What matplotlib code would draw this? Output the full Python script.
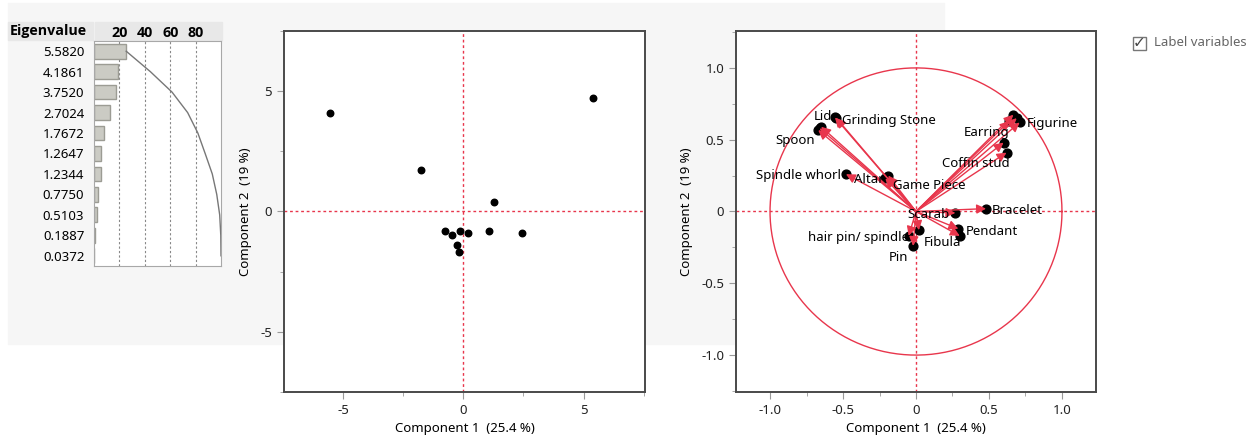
import numpy as np
import matplotlib.pyplot as plt
from matplotlib.patches import Rectangle
from matplotlib.ticker import MultipleLocator, FuncFormatter

plt.rcParams['font.family'] = ['Noto Sans', 'DejaVu Sans']
plt.rcParams['axes.unicode_minus'] = False

# eigenvalues of the correlation matrix
eigenvalues = [5.5820, 4.1861, 3.7520, 2.7024, 1.7672, 1.2647, 1.2344, 0.7750, 0.5103, 0.1887, 0.0372]

# component scores (12 observations)
score_x = [-5.52, -1.74, 1.28, -0.78, -0.46, -0.14, 0.21, -0.26, -0.17, 1.05, 2.45, 5.39]
score_y = [4.08, 1.71, 0.39, -0.82, -0.99, -0.80, -0.90, -1.39, -1.70, -0.80, -0.90, 4.71]

# loadings of the 22 variables (blank names are unlabeled)
load_names = ["Lid", "Grinding Stone", "Spoon", "", "", "Spindle whorl", "Altar", "Game Piece", "",
              "Figurine", "", "", "", "Earring", "Coffin stud", "Bracelet", "Scarab", "Pendant", "",
              "Fibula", "hair pin/ spindle", "Pin"]
load_x = [-0.555, -0.545, -0.66, -0.67, -0.65, -0.48, -0.21, -0.19, -0.20,
          0.71, 0.667, 0.64, 0.69, 0.60, 0.62, 0.48, 0.27, 0.29, 0.30,
          0.02, -0.05, -0.02]
load_y = [0.655, 0.650, 0.58, 0.567, 0.59, 0.26, 0.23, 0.25, 0.24,
          0.62, 0.674, 0.63, 0.65, 0.48, 0.41, 0.02, -0.01, -0.12, -0.17,
          -0.13, -0.17, -0.24]

# label placement (pixel offsets, alignment)
label_pos = {
    "Lid": (-3, 1, 'right'), "Grinding Stone": (6, -2, 'left'), "Spoon": (-5, -12, 'right'),
    "Spindle whorl": (-5, -1, 'right'), "Altar": (-2, -1, 'right'), "Game Piece": (5, -10, 'left'),
    "Figurine": (7, -1, 'left'), "Earring": (6, 10, 'right'), "Coffin stud": (3, -11, 'right'),
    "Bracelet": (6, -2, 'left'), "Scarab": (-6, -2, 'right'), "Pendant": (7, -3, 'left'),
    "Fibula": (5, -12, 'left'), "hair pin/ spindle": (0, -2, 'right'), "Pin": (-5, -12, 'right'),
}

RED = '#e8364c'
BOLD = ['Open Sans', 'DejaVu Sans']
W, H = 1256, 444
fig = plt.figure(figsize=(W / 100, H / 100), dpi=100)


def box(x0, y0, x1, y1):
    return [x0 / W, 1 - y1 / H, (x1 - x0) / W, (y1 - y0) / H]


# gray panel behind the report
for (x0, y0, x1, y1, c) in [(8, 3, 944, 344, '#f6f6f6'), (8, 22, 93, 40, '#e8e8e8'),
                            (95, 22, 222, 40, '#e8e8e8')]:
    fig.patches.append(Rectangle((x0 / W, 1 - y1 / H), (x1 - x0) / W, (y1 - y0) / H,
                                 transform=fig.transFigure, color=c, zorder=-5))
fig.text(10 / W, 1 - 31 / H, "Eigenvalue", fontsize=10.3, fontweight='bold', family=BOLD,
         va='center', ha='left')

# ---- eigenvalue bar chart
axb = fig.add_axes(box(94, 41, 221, 266))
pct = np.array(eigenvalues) / sum(eigenvalues) * 100
rows = np.arange(len(eigenvalues))
axb.barh(rows, pct, height=0.72, color='#cbcbc4', edgecolor='#9c9c94', lw=1)
axb.plot(np.cumsum(pct), rows, color='#777777', lw=1)
axb.set_xlim(0, 100)
axb.set_ylim(len(eigenvalues) - 0.5, -0.5)
axb.xaxis.tick_top()
axb.set_xticks([20, 40, 60, 80])
axb.set_xticklabels(['20', '40', '60', '80'], fontweight='bold', fontsize=10.3, family=BOLD)
axb.set_yticks(rows)
axb.set_yticklabels([f"{v:.4f}" for v in eigenvalues], fontsize=9.5)
axb.tick_params(length=0, pad=7)
axb.tick_params(axis='x', pad=1)
axb.grid(axis='x', ls=(0, (2, 2)), color='#888888', lw=0.8)
axb.set_axisbelow(True)
for s in axb.spines.values():
    s.set_color('#a8a8a8')

# ---- score plot
axs = fig.add_axes(box(284, 31, 645, 392))
axs.scatter(score_x, score_y, s=22, color='black', zorder=3)
axs.axhline(0, color=RED, ls=(0, (2, 2)), lw=1)
axs.axvline(0, color=RED, ls=(0, (2, 2)), lw=1)
axs.set_xlim(-7.45, 7.55)
axs.set_ylim(-7.5, 7.5)
axs.xaxis.set_major_locator(MultipleLocator(5))
axs.yaxis.set_major_locator(MultipleLocator(5))
axs.xaxis.set_minor_locator(MultipleLocator(2.5))
axs.yaxis.set_minor_locator(MultipleLocator(2.5))
axs.set_xlabel("Component 1  (25.4 %)", fontsize=9.5, labelpad=4)
axs.set_ylabel("Component 2  (19 %)", fontsize=9.5, labelpad=6)

# ---- loading plot
axl = fig.add_axes(box(736, 31, 1096, 392))
theta = np.linspace(0, 2 * np.pi, 400)
axl.plot(np.cos(theta), np.sin(theta), color=RED, lw=1)
axl.axhline(0, color=RED, ls=(0, (2, 2)), lw=1)
axl.axvline(0, color=RED, ls=(0, (2, 2)), lw=1)
axl.scatter(load_x, load_y, s=40, color='black', zorder=3)
for name, x, y in zip(load_names, load_x, load_y):
    axl.annotate('', xy=(x, y), xytext=(0, 0),
                 arrowprops=dict(arrowstyle='-|>', color=RED, lw=1, mutation_scale=14,
                                 shrinkA=0, shrinkB=0), zorder=4)
    if name:
        dx, dy, ha = label_pos[name]
        axl.annotate(name, xy=(x, y), xytext=(dx, dy), textcoords='offset pixels',
                     ha=ha, va='center', fontsize=9.5, zorder=5)
axl.set_xlim(-1.233, 1.233)
axl.set_ylim(-1.257, 1.257)
axl.xaxis.set_major_locator(MultipleLocator(0.5))
axl.yaxis.set_major_locator(MultipleLocator(0.5))
axl.xaxis.set_minor_locator(MultipleLocator(0.25))
axl.yaxis.set_minor_locator(MultipleLocator(0.25))
fmt = FuncFormatter(lambda v, p: '0' if abs(v) < 1e-9 else f"{v:.1f}")
axl.xaxis.set_major_formatter(fmt)
axl.yaxis.set_major_formatter(fmt)
axl.set_xlabel("Component 1  (25.4 %)", fontsize=9.5, labelpad=4)
axl.set_ylabel("Component 2  (19 %)", fontsize=9.5, labelpad=6)

for ax in (axs, axl):
    ax.set_facecolor('white')
    for s in ax.spines.values():
        s.set_color('#4a4a4a')
        s.set_linewidth(1.4)
    ax.tick_params(which='both', color='#999999', labelsize=9.5, labelcolor='#222222')
    ax.tick_params(which='major', length=5)
    ax.tick_params(which='minor', length=3)

# checkbox
fig.patches.append(Rectangle((1133 / W, 1 - 50 / H), 13 / W, 13 / H, transform=fig.transFigure,
                             fill=False, edgecolor='#777777', lw=1))
fig.text(1139.5 / W, 1 - 43 / H, "\u2713", fontsize=11, ha='center', va='center',
         color='#444444', family='DejaVu Sans')
fig.text(1154 / W, 1 - 42 / H, "Label variables", fontsize=9.5, color='#666666',
         va='center', ha='left')

fig.savefig('out.png', dpi=100)
